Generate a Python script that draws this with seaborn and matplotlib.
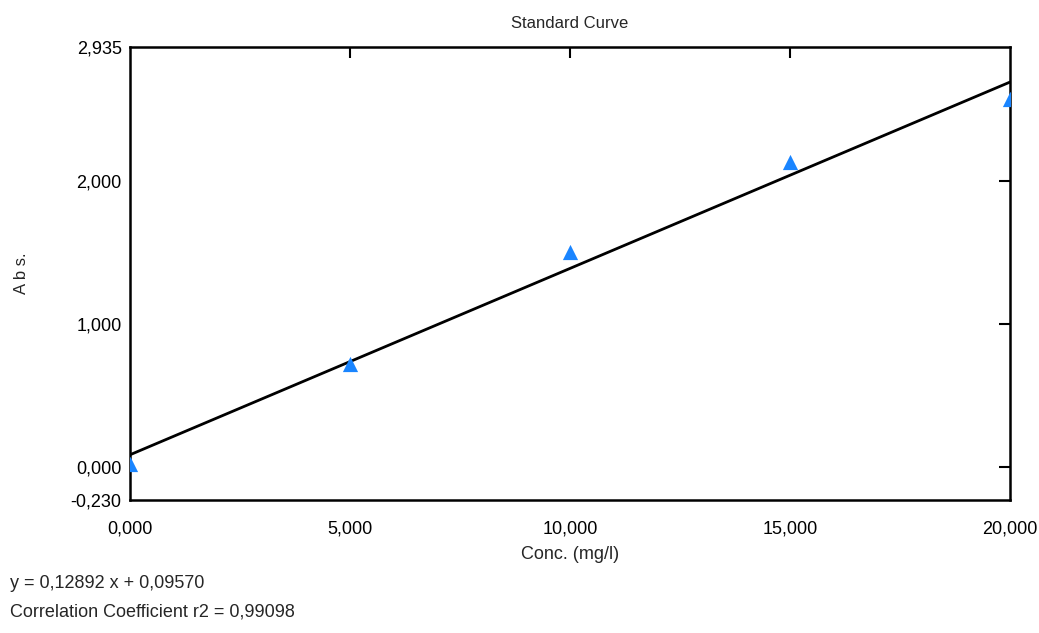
import pandas as pd
import seaborn as sb
import matplotlib.pyplot as plt

#%% data
conc = [0, 5, 10, 15, 20]
absorb = [0.02, 0.72, 1.50, 2.13, 2.57]
x_ticks = [0, 5, 10, 15, 20]
x_labels = ["0,000", "5,000", "10,000", "15,000", "20,000"]
y_ticks = [-0.23, 0, 1, 2, 2.935]
y_labels = ["-0,230", "0,000", "1,000", "2,000", "2,935"]
eq_text = "y = 0,12892 x + 0,09570"
r2_text = "Correlation Coefficient r2 = 0,99098"

df = pd.DataFrame({"conc": conc, "abs": absorb})

#%% style
sb.set_style("white")
plt.rcParams["font.family"] = ["Liberation Sans Narrow", "Liberation Sans", "DejaVu Sans"]

fig = plt.figure(figsize=(10.39, 6.33), dpi=100)
ax = fig.add_axes([130/1039, 1-500/633, 880/1039, 453/633])

sb.regplot(data=df, x="conc", y="abs", ci=None, ax=ax, truncate=False,
           marker="^", scatter_kws={"color": "#1a85ff", "s": 120, "alpha": 1,
                                    "zorder": 3, "clip_on": True, "linewidths": 0},
           line_kws={"color": "black", "lw": 2, "zorder": 2})

ax.set_xlim(0, 20)
ax.set_ylim(-0.23, 2.935)
ax.set_xticks(x_ticks)
ax.set_xticklabels(x_labels)
ax.set_yticks(y_ticks)
ax.set_yticklabels(y_labels)
ax.tick_params(direction="in", length=8, width=1.5, labelsize=13,
               top=True, right=True, colors="black")
ax.tick_params(axis="x", pad=15)
ax.tick_params(axis="y", pad=6)
# no tick marks at the axis ends, only the labels
for t in [ax.xaxis.get_major_ticks()[0], ax.xaxis.get_major_ticks()[-1],
          ax.yaxis.get_major_ticks()[0], ax.yaxis.get_major_ticks()[-1]]:
    t.tick1line.set_visible(False)
    t.tick2line.set_visible(False)
for s in ax.spines.values():
    s.set_visible(True)
    s.set_color("black")
    s.set_linewidth(1.8)

ax.set_title("Standard Curve", fontsize=12, pad=14)
ax.set_xlabel("Conc. (mg/l)", fontsize=13, labelpad=6)
ax.set_ylabel("A b s.", fontsize=12, labelpad=30)

fig.text(10/1039, 1-583/633, eq_text, fontsize=13, va="center")
fig.text(10/1039, 1-612/633, r2_text, fontsize=13, va="center")

fig.savefig("out.png", dpi=100)
